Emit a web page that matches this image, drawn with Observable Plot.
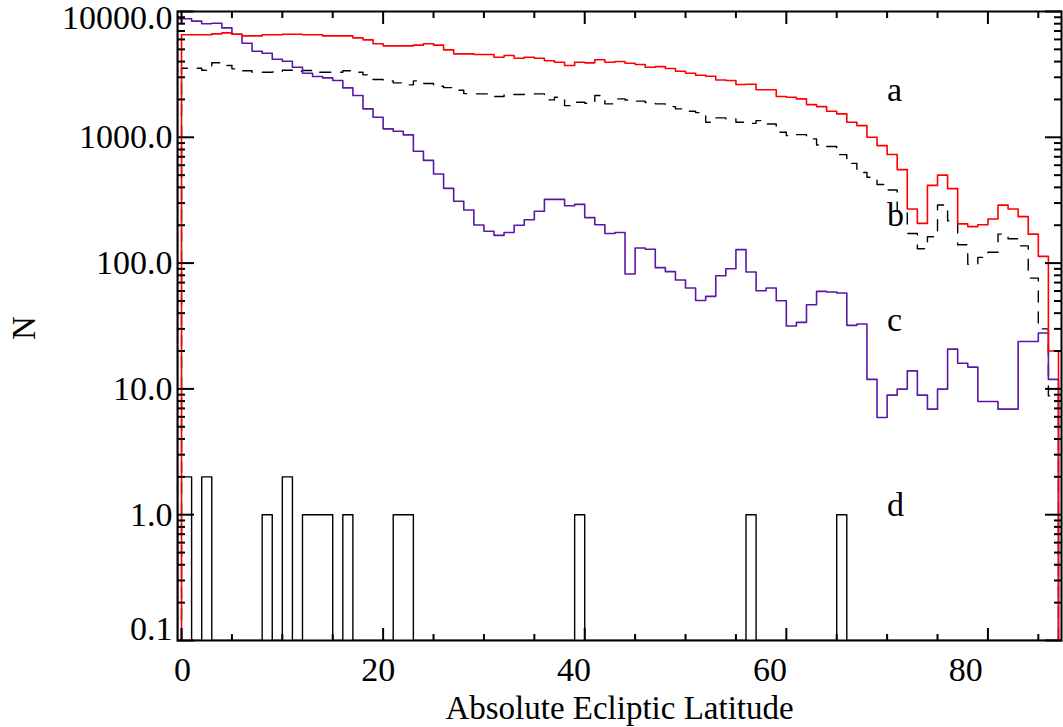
<!DOCTYPE html>
<html><head><meta charset="utf-8">
<script src="https://cdn.jsdelivr.net/npm/d3@7"></script>
<script src="https://cdn.jsdelivr.net/npm/@observablehq/plot@0.6"></script>
<style>html,body{margin:0;padding:0;background:#fff;}</style>
</head><body><div id="chart"></div>
<script>
// Histogram counts per 1-degree bin of absolute ecliptic latitude (bins 0..86)
const seriesA = [6530,6530,6530,6640,6765,6600,6400,6400,6530,6530,6600,6600,6530,6530,6400,6400,6400,6170,5950,5535,
  5335,5335,5335,5400,5535,5400,4955,4605,4605,4546,4546,4330,4466,4253,4330,4253,4055,3955,3717,3955,
  3907,4130,3955,4003,3882,3787,3607,3649,3522,3351,3229,3113,3056,2857,2825,2625,2640,2385,2385,2110,
  2082,2020,1820,1754,1610,1535,1316,1239,1000,859,730,553,269,207,415,500,391,205,195,202,
  224,289,269,234,170,113,20];
const seriesB = [3540,3540,3410,3910,3717,3500,3377,3289,3289,3300,3410,3351,3400,3289,3289,3289,3377,3290,3136,2880,
  2808,2710,2612,2808,2675,2546,2484,2366,2225,2215,2215,2110,2187,2187,2200,2215,1983,2082,1786,1900,
  1866,2147,1845,2020,1980,1938,1890,1845,1754,1682,1610,1571,1316,1427,1397,1316,1291,1358,1277,1097,
  1031,1050,971,869,845,728,620,525,481,421,381,260,172,130,162,290,217,140,98,111,
  122,170,156,137,76,30,8.8];
const seriesC = [8750,8380,8000,8075,7410,6600,5600,4835,4660,4175,4025,3607,3230,3040,2966,2825,2470,2147,1682,1443,
  1166,1117,1045,774,655,511,393,310,264,201,179,166,175,200,221,258,321,321,286,293,
  230,202,172,175,82,132,129,92,85.5,73.4,63.4,50.5,54.4,79.4,90.2,128,85,60.3,63.4,50.2,
  31.6,33.8,46.7,59.6,58.9,57.8,32,32.8,11.9,5.93,8.92,9.96,13.9,8.92,6.9,9.96,20.7,16,14.9,7.94,
  7.94,6.9,6.9,23.8,23.8,27.8,11.9];
const seriesD = [2,0,2,0,0,0,0,0,1,0,2,0,1,1,1,0,1,0,0,0,
  0,1,1,0,0,0,0,0,0,0,0,0,0,0,0,0,0,0,0,1,
  0,0,0,0,0,0,0,0,0,0,0,0,0,0,0,0,1,0,0,0,
  0,0,0,0,0,1,0,0,0,0,0,0,0,0,0,0,0,0,0,0,
  0,0,0,0,0,0,0];

const xMajorTicks = [0, 20, 40, 60, 80];
const xMinorTicks = [5, 10, 15, 25, 30, 35, 45, 50, 55, 65, 70, 75, 85];
const yMajorTicks = [0.1, 1, 10, 100, 1000, 10000];
const yMinorTicks = [0.1, 1, 10, 100, 1000].flatMap(d => [2,3,4,5,6,7,8,9].map(k => d * k));
const yTickLabels = ["0.1", "1.0", "10.0", "100.0", "1000.0", "10000.0"];
const panelLabels = ["a", "b", "c", "d"];
const panelLabelX = [70, 70, 70, 70];
const panelLabelY = [1954, 199, 29, 0.98];
const xTitle = "Absolute Ecliptic Latitude";
const yTitle = "N";

const xDomain = [-0.4, 87.3];
const yDomain = [0.1, 10000];
const FONT = "Liberation Serif";

function steps(values, start) {
  const floor = yDomain[0];
  const pts = [{x: start, y: floor}];
  values.forEach((v, i) => pts.push({x: i === 0 ? start : i, y: Math.max(v, floor)}));
  pts.push({x: values.length, y: Math.max(values[values.length - 1], floor)});
  pts.push({x: values.length, y: floor});
  return pts;
}

const tickStyle = {stroke: "black", strokeWidth: 2, fill: "none", label: null};
const yLabelShift = v => v === 0.1 ? -11 : v === 10000 ? 7 : 0;
const xLabelShift = v => 1 - 0.29 * v;

const chart = Plot.plot({
  width: 1063,
  height: 727,
  marginLeft: 177,
  marginRight: 2,
  marginTop: 11,
  marginBottom: 87,
  style: {fontFamily: FONT, fontSize: "34px", background: "white", color: "black"},
  x: {type: "linear", domain: xDomain, axis: null},
  y: {type: "log", domain: yDomain, axis: null},
  marks: [
    Plot.line(steps(seriesD, xDomain[0]), {x: "x", y: "y", curve: "step-after", stroke: "black", strokeWidth: 1.4, clip: true}),
    Plot.line(steps(seriesB, 0), {x: "x", y: "y", curve: "step-after", stroke: "black", strokeWidth: 1.4, strokeDasharray: "11,10", clip: true}),
    Plot.line(steps(seriesC, xDomain[0]), {x: "x", y: "y", curve: "step-after", stroke: "#5b17a6", strokeWidth: 1.6, clip: true}),
    Plot.line(steps(seriesA, 0), {x: "x", y: "y", curve: "step-after", stroke: "#ff0000", strokeWidth: 1.6, clip: true}),
    Plot.frame({stroke: "black", strokeWidth: 2}),
    Plot.axisX(xMajorTicks, {anchor: "bottom", tickSize: -12, ...tickStyle}),
    Plot.axisX(xMinorTicks, {anchor: "bottom", tickSize: -6, ...tickStyle}),
    Plot.axisX(xMajorTicks, {anchor: "top", tickSize: -12, ...tickStyle}),
    Plot.axisX(xMinorTicks, {anchor: "top", tickSize: -6, ...tickStyle}),
    Plot.axisY(yMajorTicks, {anchor: "left", tickSize: -17, ...tickStyle}),
    Plot.axisY(yMinorTicks, {anchor: "left", tickSize: -8, ...tickStyle}),
    Plot.axisY(yMajorTicks, {anchor: "right", tickSize: -17, ...tickStyle}),
    Plot.axisY(yMinorTicks, {anchor: "right", tickSize: -8, ...tickStyle}),
    ...yMajorTicks.map((v, i) => Plot.text([v], {y: d => d, frameAnchor: "left", textAnchor: "end", dx: -5, dy: yLabelShift(v), text: () => yTickLabels[i], fill: "black"})),
    ...xMajorTicks.map(v => Plot.text([v], {x: d => d, frameAnchor: "bottom", lineAnchor: "top", dy: 16, dx: xLabelShift(v), text: d => String(d), fill: "black"})),
    Plot.text(panelLabels, {x: (d, i) => panelLabelX[i], y: (d, i) => panelLabelY[i], text: d => d, textAnchor: "start", lineAnchor: "bottom", fill: "black"}),
    Plot.text([xTitle], {frameAnchor: "bottom", lineAnchor: "bottom", dy: 78, text: d => d, fontSize: 33, fill: "black"}),
    Plot.text([yTitle], {frameAnchor: "left", rotate: -90, dx: -153.5, dy: 14, text: d => d, fontSize: 33, fill: "black"})
  ]
});
document.getElementById("chart").appendChild(chart);
</script>
</body></html>
